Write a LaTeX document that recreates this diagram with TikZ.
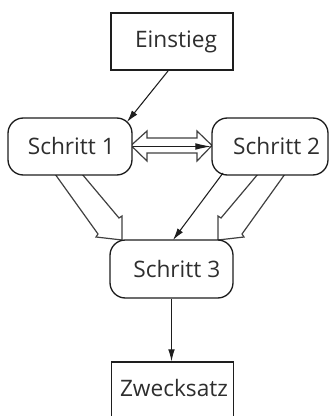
\documentclass[tikz,border=0pt]{standalone}
\usepackage{fontspec}
\setmainfont{Open Sans}
\usetikzlibrary{arrows.meta,calc}
\definecolor{txt}{HTML}{2E2E2E}
\definecolor{ln}{HTML}{1E1E1E}
\begin{document}
\begin{tikzpicture}[x=0.75pt,y=-0.75pt,
  every node/.style={font=\fontsize{17}{20}\selectfont, text=txt, inner sep=0pt},
  sqbox/.style={draw=ln, line width=1pt, fill=white, rectangle},
  rbox/.style={draw=ln, line width=1pt, fill=white, rectangle, rounded corners=11.5pt},
  thin/.style={draw=ln, line width=0.8pt, -{Latex[length=9pt,width=5pt]}},
  hollow/.style={draw=ln!85, line width=0.9pt, fill=white, line join=miter}]
\useasboundingbox (0,0) rectangle (331,416);
\clip (0,0) rectangle (331,416);
% hollow arrows (behind boxes)
\draw[hollow] (55,174) -- (98,234) -- (96,237) -- (122,240) -- (122,216) -- (119,218) -- (82,174);
\draw[hollow] (285,174) -- (242,234) -- (244,237) -- (218,240) -- (218,216) -- (221,218) -- (258,174);
\draw[hollow] (131,145.5) -- (147,131) -- (147,138) -- (197,138) -- (197,131) -- (212,145.5)
  -- (197,161) -- (197,153) -- (147,153) -- (147,161) -- cycle;
% nodes
\node[sqbox, minimum width=91.5pt, minimum height=42.75pt] (ein) at (172,41.5) {\hspace*{6pt}Einstieg};
\node[rbox, minimum width=93pt, minimum height=42.75pt] (s1) at (70,146.5) {\hspace*{2pt}Schritt 1};
\node[rbox, minimum width=87pt, minimum height=42.75pt] (s2) at (270,146.5) {\hspace*{10pt}Schritt 2};
\node[rbox, minimum width=92.25pt, minimum height=43.5pt] (s3) at (171.5,269) {\hspace*{8pt}Schritt 3};
\node[sqbox, minimum width=91.5pt, minimum height=48pt] (zw) at (172.5,394) {};
\node at (174,388) {Zwecksatz};
% thin connectors
\coordinate (a1) at (168,71);
\coordinate (a2) at (127,122);
\draw[thin] (a1) -- (a2);
\draw[thin, -{Latex[length=12pt,width=5pt]}] (s1.east) -- (s2.west);
\coordinate (b1) at (223,173);
\coordinate (b2) at (173,240);
\draw[thin] (b1) -- (b2);
\draw[thin] (s3.south -| 171.5,0) -- (zw.north -| 171.5,0);
\end{tikzpicture}
\end{document}
